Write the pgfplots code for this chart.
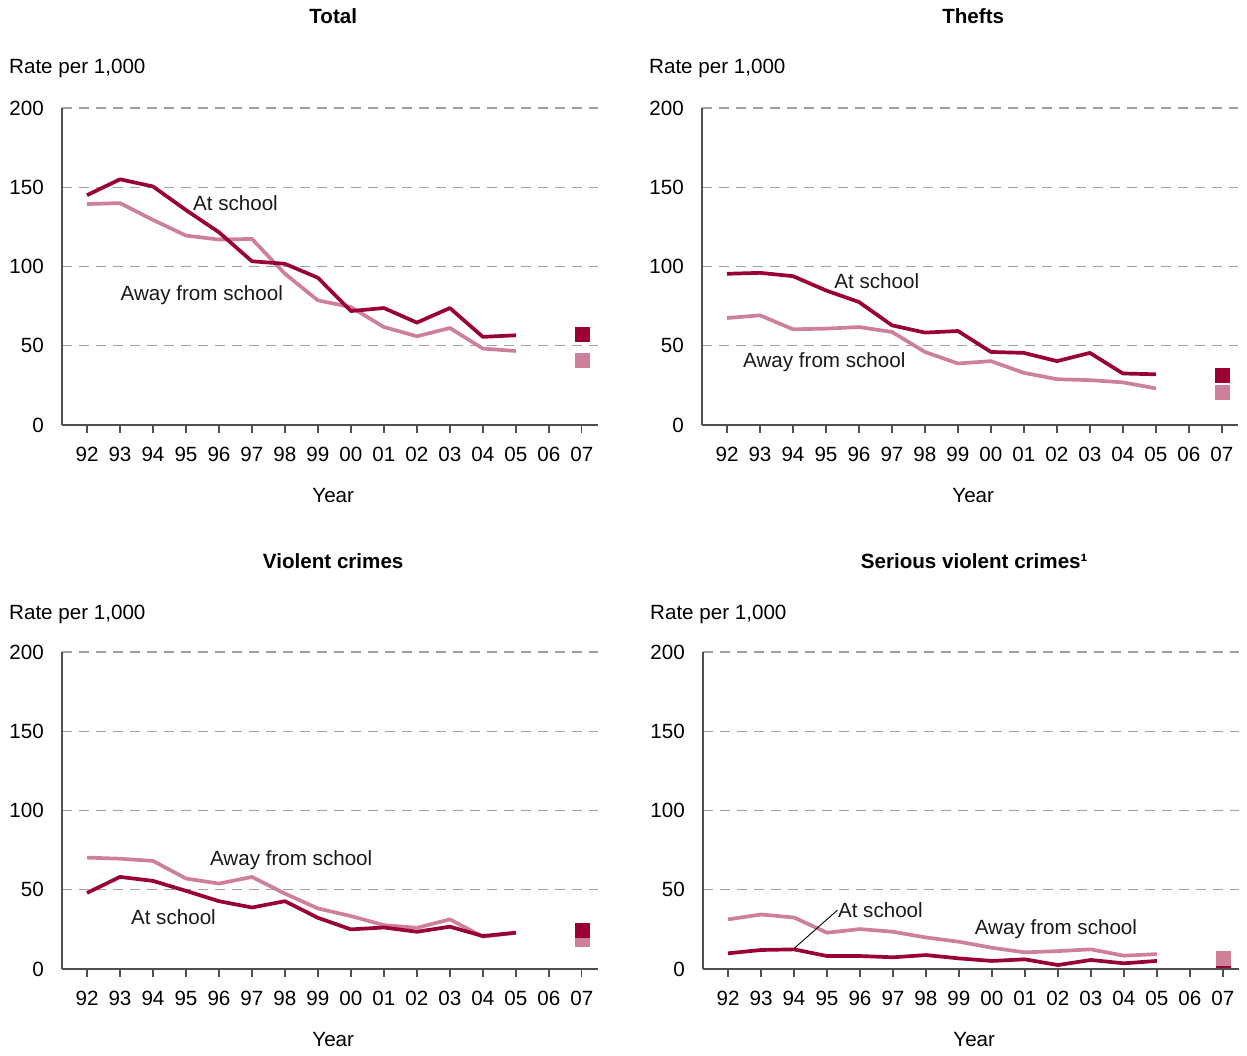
\documentclass[border=0pt]{standalone}
\usepackage{pgfplots}
\pgfplotsset{compat=1.18}
\usepackage{fontspec}
\setmainfont{Liberation Sans}
\definecolor{atc}{RGB}{153,0,51}
\definecolor{awc}{RGB}{206,128,152}
\definecolor{axc}{RGB}{80,80,80}
\definecolor{grc}{RGB}{160,160,160}
\newcommand{\cf}{\fontsize{20.6}{24}\selectfont}
\tikzset{lab/.style={font=\cf, anchor=base, text=black!90, inner sep=0pt}}
\pgfplotsset{
 panel/.style={
  scale only axis, width=536pt, height=317pt,
  xmin=-0.758, xmax=15.49, ymin=0, ymax=200,
  axis x line*=bottom, axis y line*=left,
  axis line style={draw=axc, line width=1.3pt},
  xtick={0,...,15},
  xticklabels={92,93,94,95,96,97,98,99,00,01,02,03,04,05,06,07},
  ytick={0,50,100,150,200},
  ymajorgrids,
  grid style={draw=grc, line width=1.3pt, dash pattern=on 10pt off 7pt},
  tick align=outside, major tick length=8pt,
  xtick style={draw=axc, line width=1.3pt},
  ytick style={draw=none},
  /pgf/number format/assume math mode=true,
  tick label style={font=\cf},
  xticklabel style={inner sep=0pt, yshift=-13.7pt},
  yticklabel style={inner sep=0pt, anchor=east, xshift=-10pt},
  title style={font=\cf\bfseries, anchor=base},
  ylabel style={font=\cf, rotate=-90, anchor=base west, inner sep=0pt},
  xlabel style={font=\cf, anchor=base, at={(axis description cs:0.506,-0.243)}},
  ylabel={Rate per 1,000}, xlabel={Year},
  atl/.style={color=atc, line width=3.7pt, line join=round, mark=none},
  awl/.style={color=awc, line width=3.7pt, line join=round, mark=none},
  ats/.style={only marks, mark=square*, mark size=7pt, color=atc},
  aws/.style={only marks, mark=square*, mark size=7pt, color=awc},
 },
 toprow/.style={
  title style={at={(axis description cs:0.506,1.2486)}},
  ylabel style={at={(axis description cs:-0.0989,1.110)}},
 },
 botrow/.style={
  title style={at={(axis description cs:0.506,1.246)}},
  ylabel style={at={(axis description cs:-0.0989,1.104)}},
 },
}
\begin{document}
\begin{tikzpicture}
\path[use as bounding box] (0,0) rectangle (1247pt,-1055pt);

% Total
\begin{axis}[panel, toprow, at={(62pt,-425pt)}, anchor=south west, title={Total}]
\addplot[awl] coordinates {(0,139.4)(1,140)(2,129.4)(3,119.5)(4,117)(5,117.4)(6,95.4)(7,78.6)(8,74.4)(9,61.8)(10,56)(11,61.2)(12,48.2)(13,46.7)};
\addplot[atl] coordinates {(0,145)(1,155)(2,150.5)(3,135.6)(4,121.6)(5,103.3)(6,101.7)(7,92.9)(8,71.9)(9,73.8)(10,64.6)(11,73.8)(12,55.6)(13,56.6)};
\addplot[aws] coordinates {(15,41.2)};
\addplot[ats] coordinates {(15,57.4)};
\node[lab] at (axis cs:4.5,135.6) {At school};
\node[lab] at (axis cs:3.48,78.4) {Away from school};
\end{axis}

% Thefts
\begin{axis}[panel, toprow, at={(702pt,-425pt)}, anchor=south west, title={Thefts}]
\addplot[awl] coordinates {(0,67.5)(1,69.2)(2,60.4)(3,60.8)(4,61.8)(5,58.7)(6,46.1)(7,38.8)(8,40.3)(9,32.9)(10,28.9)(11,28.3)(12,26.9)(13,23.1)};
\addplot[atl] coordinates {(0,95.4)(1,96)(2,93.9)(3,84.9)(4,77.6)(5,62.9)(6,58.3)(7,59.3)(8,46.1)(9,45.5)(10,40.3)(11,45.5)(12,32.5)(13,32)};
\addplot[aws] coordinates {(15,21)};
\addplot[ats] coordinates {(15,31.4)};
\node[lab] at (axis cs:4.54,86.2) {At school};
\node[lab] at (axis cs:2.95,36.4) {Away from school};
\end{axis}

% Violent crimes
\begin{axis}[panel, botrow, at={(62pt,-969pt)}, anchor=south west, title={Violent crimes}]
\addplot[awl] coordinates {(0,70.3)(1,69.6)(2,68.2)(3,57.1)(4,53.9)(5,58.1)(6,47.6)(7,38.2)(8,33.4)(9,27.7)(10,26)(11,31.3)(12,20.4)(13,22.9)};
\addplot[atl] coordinates {(0,48)(1,58.1)(2,55.6)(3,49.3)(4,42.8)(5,38.8)(6,42.8)(7,32.3)(8,25)(9,26.2)(10,23.5)(11,26.7)(12,20.8)(13,22.9)};
\addplot[aws] coordinates {(15,18.9)};
\addplot[ats] coordinates {(15,24.6)};
\node[lab] at (axis cs:6.19,65.2) {Away from school};
\node[lab] at (axis cs:2.62,28.4) {At school};
\end{axis}

% Serious violent crimes
\begin{axis}[panel, botrow, at={(703pt,-969pt)}, anchor=south west, title={Serious violent crimes¹}, axis on top, clip marker paths=true]
\addplot[awl] coordinates {(0,31.3)(1,34.4)(2,32.5)(3,22.9)(4,25.2)(5,23.5)(6,19.9)(7,17.2)(8,13.4)(9,10.5)(10,11.3)(11,12.4)(12,8.4)(13,9.4)};
\addplot[atl] coordinates {(0,9.9)(1,12)(2,12.4)(3,8.2)(4,8.2)(5,7.4)(6,8.8)(7,6.7)(8,5.1)(9,6.1)(10,2.5)(11,5.7)(12,3.6)(13,5.1)};
\addplot[ats] coordinates {(15,2.5)};
\addplot[aws] coordinates {(15,6.8)};
\draw[black, line width=0.9pt] (axis cs:2.01,13.1) -- (axis cs:3.32,37.2);
\node[lab] at (axis cs:4.62,32.4) {At school};
\node[lab] at (axis cs:9.94,21.5) {Away from school};
\end{axis}
\end{tikzpicture}
\end{document}
